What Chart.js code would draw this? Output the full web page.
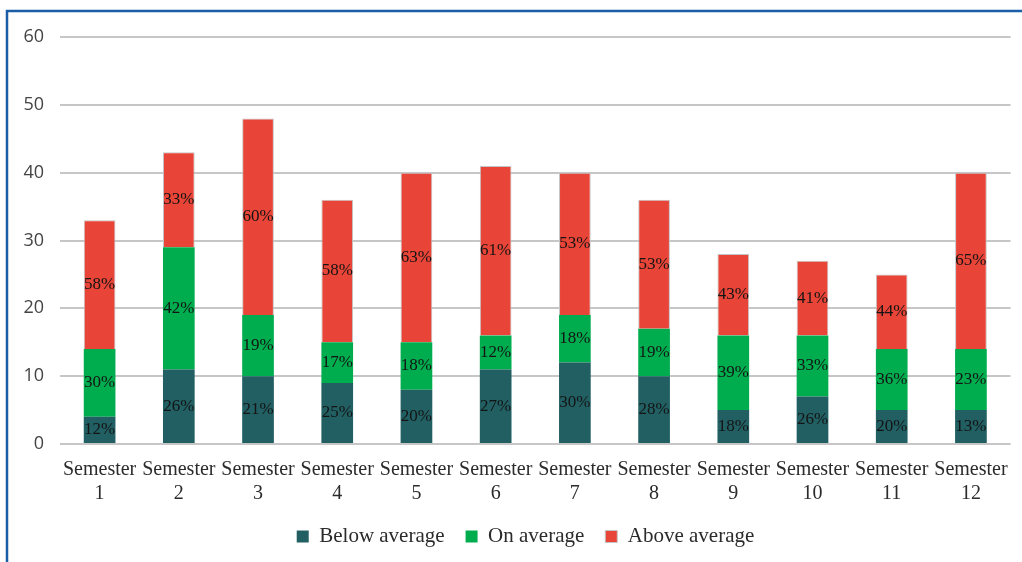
<!DOCTYPE html>
<html>
<head>
<meta charset="utf-8">
<title>Student performance by semester</title>
<script src="https://cdn.jsdelivr.net/npm/chart.js@4/dist/chart.umd.min.js"></script>
<style>
  html, body { margin: 0; padding: 0; background: #ffffff; }
  canvas { display: block; }
</style>
</head>
<body>
<canvas id="chart" width="1022" height="562"></canvas>
<script>
// Semester categories (two-line tick labels)
const semesters = [
  ['Semester', '1'], ['Semester', '2'], ['Semester', '3'], ['Semester', '4'],
  ['Semester', '5'], ['Semester', '6'], ['Semester', '7'], ['Semester', '8'],
  ['Semester', '9'], ['Semester', '10'], ['Semester', '11'], ['Semester', '12']
];

// Number of students per performance group
const belowAverage = [4, 11, 10, 9, 8, 11, 12, 10, 5, 7, 5, 5];
const onAverage    = [10, 18, 9, 6, 7, 5, 7, 7, 11, 9, 9, 9];
const aboveAverage = [19, 14, 29, 21, 25, 25, 21, 19, 12, 11, 11, 26];

const seriesNames = ['Below average', 'On average', 'Above average'];
const seriesColors = ['#215f63', '#00ad4e', '#e84437'];

// Y axis range
const yMin = 0;
const yMax = 60;
const yStep = 10;

const totals = semesters.map((_, i) => belowAverage[i] + onAverage[i] + aboveAverage[i]);

// Blue frame along the top and left edges
const framePlugin = {
  id: 'frame',
  beforeDraw(chart) {
    const ctx = chart.ctx;
    ctx.save();
    ctx.strokeStyle = '#1a5ea8';
    ctx.lineWidth = 2.5;
    ctx.beginPath();
    ctx.moveTo(7, chart.height);
    ctx.lineTo(7, 11);
    ctx.lineTo(chart.width, 11);
    ctx.stroke();
    ctx.restore();
  }
};

// Centre the legend row a little to the right, under the plot
const legendOffsetPlugin = {
  id: 'legendOffset',
  afterLayout(chart) {
    if (chart.legend) {
      chart.legend.left += 39;
    }
  }
};

// Share of each group in the semester total, written at the centre of its segment
const shareLabelPlugin = {
  id: 'shareLabels',
  afterDatasetsDraw(chart) {
    const ctx = chart.ctx;
    ctx.save();
    ctx.font = '17px "Liberation Serif", "DejaVu Serif", serif';
    ctx.fillStyle = '#141414';
    ctx.textAlign = 'center';
    ctx.textBaseline = 'middle';
    chart.data.datasets.forEach((ds, di) => {
      const meta = chart.getDatasetMeta(di);
      meta.data.forEach((bar, i) => {
        const v = ds.data[i];
        const pct = Math.round(v * 100 / totals[i]);
        const cy = (bar.y + bar.base) / 2;
        ctx.fillText(pct + '%', bar.x, cy);
      });
    });
    ctx.restore();
  }
};

const values = [belowAverage, onAverage, aboveAverage];

new Chart(document.getElementById('chart'), {
  type: 'bar',
  data: {
    labels: semesters,
    datasets: values.map((arr, k) => ({
      label: seriesNames[k],
      data: arr,
      backgroundColor: seriesColors[k],
      borderColor: '#c4c4c4',
      borderWidth: k === 2 ? 1 : 0,
      borderSkipped: 'bottom',
      barPercentage: 0.4,
      categoryPercentage: 1.0
    }))
  },
  options: {
    responsive: false,
    animation: false,
    layout: { padding: { top: 37, left: 0, right: 10, bottom: 5 } },
    scales: {
      x: {
        stacked: true,
        grid: { display: false, drawTicks: false },
        border: { display: false },
        ticks: {
          autoSkip: false,
          maxRotation: 0,
          minRotation: 0,
          padding: 14,
          color: '#2b2b2b',
          font: { family: '"Liberation Serif", "DejaVu Serif", serif', size: 20, lineHeight: 1.2 }
        },
        afterFit(scale) { scale.height = 61; }
      },
      y: {
        stacked: true,
        min: yMin,
        max: yMax,
        grid: { color: '#c6c6c6', lineWidth: 2, drawTicks: false },
        border: { display: false },
        ticks: {
          stepSize: yStep,
          padding: 16,
          color: '#444444',
          font: { family: '"Open Sans", "Noto Sans", sans-serif', size: 18 }
        },
        afterFit(scale) { scale.width = 60; }
      }
    },
    plugins: {
      legend: {
        position: 'bottom',
        labels: {
          boxWidth: 12,
          boxHeight: 12,
          padding: 21,
          color: '#2b2b2b',
          font: { family: '"Liberation Serif", "DejaVu Serif", serif', size: 21 }
        }
      },
      tooltip: { enabled: false }
    }
  },
  plugins: [framePlugin, legendOffsetPlugin, shareLabelPlugin]
});
</script>
</body>
</html>
